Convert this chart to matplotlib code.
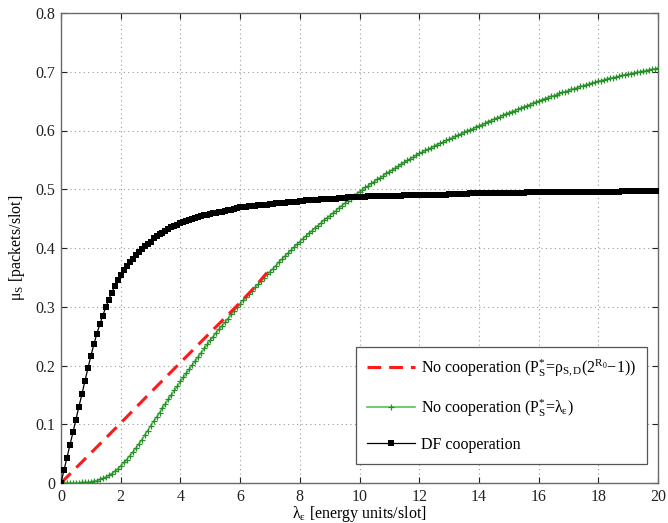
import numpy as np
import matplotlib
matplotlib.use("Agg")
import matplotlib.pyplot as plt

plt.rcParams['font.family'] = ['Liberation Serif', 'DejaVu Serif']
plt.rcParams['mathtext.fontset'] = 'custom'
plt.rcParams['mathtext.rm'] = 'Liberation Serif'
plt.rcParams['mathtext.it'] = 'Liberation Serif:italic'
plt.rcParams['mathtext.bf'] = 'Liberation Serif:bold'

# ---------------- data ----------------
x_step = 0.1
lam = np.round(np.arange(0, 201) * x_step, 1)   # lambda_epsilon grid 0..20

df_coop = [
    0.000,
    0.022, 0.043, 0.065, 0.086, 0.108, 0.130, 0.151, 0.173, 0.195, 0.216,
    0.236, 0.254, 0.270, 0.285, 0.299, 0.312, 0.324, 0.335, 0.345, 0.354,
    0.362, 0.369, 0.376, 0.382, 0.388, 0.393, 0.398, 0.403, 0.407, 0.411,
    0.417, 0.420, 0.423, 0.426, 0.429, 0.432, 0.435, 0.437, 0.440, 0.442,
    0.444, 0.446, 0.448, 0.450, 0.451, 0.453, 0.454, 0.456, 0.457, 0.458,
    0.459, 0.460, 0.461, 0.462, 0.463, 0.464, 0.465, 0.467, 0.468, 0.469,
    0.470, 0.470, 0.471, 0.472, 0.472, 0.473, 0.473, 0.474, 0.474, 0.475,
    0.475, 0.476, 0.476, 0.477, 0.477, 0.478, 0.478, 0.479, 0.479, 0.480,
    0.480, 0.481, 0.481, 0.481, 0.482, 0.482, 0.483, 0.483, 0.483, 0.484,
    0.484, 0.484, 0.485, 0.485, 0.485, 0.486, 0.486, 0.486, 0.487, 0.487,
    0.487, 0.487, 0.488, 0.488, 0.488, 0.488, 0.488, 0.489, 0.489, 0.489,
    0.489, 0.489, 0.489, 0.489, 0.490, 0.490, 0.490, 0.490, 0.490, 0.490,
    0.490, 0.490, 0.491, 0.491, 0.491, 0.491, 0.491, 0.491, 0.491, 0.492,
    0.492, 0.492, 0.492, 0.492, 0.492, 0.492, 0.493, 0.493, 0.493, 0.493,
    0.493, 0.493, 0.493, 0.493, 0.493, 0.494, 0.494, 0.494, 0.494, 0.494,
    0.494, 0.494, 0.494, 0.494, 0.494, 0.495, 0.495, 0.495, 0.495, 0.495,
    0.495, 0.495, 0.495, 0.495, 0.495, 0.495, 0.495, 0.496, 0.496, 0.496,
    0.496, 0.496, 0.496, 0.496, 0.496, 0.496, 0.496, 0.496, 0.496, 0.496,
    0.496, 0.496, 0.496, 0.496, 0.496, 0.496, 0.496, 0.497, 0.497, 0.497,
    0.497, 0.497, 0.497, 0.497, 0.497, 0.497, 0.497, 0.497, 0.497, 0.497,
]

no_coop_lambda = [
    0.000,
    0.000, 0.000, 0.000, 0.000, 0.000, 0.000, 0.001, 0.001, 0.001, 0.002,
    0.003, 0.004, 0.006, 0.008, 0.010, 0.013, 0.016, 0.020, 0.024, 0.029,
    0.035, 0.040, 0.046, 0.052, 0.059, 0.066, 0.073, 0.081, 0.089, 0.097,
    0.105, 0.112, 0.120, 0.128, 0.135, 0.143, 0.150, 0.158, 0.165, 0.173,
    0.180, 0.187, 0.194, 0.201, 0.208, 0.215, 0.222, 0.229, 0.236, 0.243,
    0.249, 0.256, 0.262, 0.268, 0.274, 0.280, 0.287, 0.293, 0.299, 0.305,
    0.311, 0.316, 0.322, 0.327, 0.333, 0.338, 0.344, 0.349, 0.355, 0.360,
    0.365, 0.370, 0.376, 0.381, 0.386, 0.391, 0.396, 0.401, 0.406, 0.411,
    0.416, 0.420, 0.425, 0.429, 0.434, 0.438, 0.442, 0.447, 0.451, 0.455,
    0.459, 0.463, 0.468, 0.472, 0.476, 0.480, 0.484, 0.488, 0.492, 0.496,
    0.499, 0.503, 0.506, 0.510, 0.513, 0.517, 0.520, 0.523, 0.527, 0.530,
    0.533, 0.536, 0.539, 0.543, 0.546, 0.549, 0.552, 0.555, 0.558, 0.561,
    0.563, 0.566, 0.568, 0.571, 0.573, 0.576, 0.578, 0.580, 0.583, 0.585,
    0.587, 0.590, 0.592, 0.594, 0.597, 0.599, 0.601, 0.603, 0.606, 0.608,
    0.610, 0.612, 0.615, 0.617, 0.619, 0.621, 0.623, 0.626, 0.628, 0.630,
    0.632, 0.634, 0.636, 0.638, 0.640, 0.642, 0.644, 0.646, 0.648, 0.650,
    0.652, 0.654, 0.656, 0.658, 0.659, 0.661, 0.663, 0.665, 0.666, 0.668,
    0.670, 0.671, 0.673, 0.675, 0.676, 0.678, 0.679, 0.681, 0.682, 0.684,
    0.685, 0.686, 0.688, 0.689, 0.690, 0.691, 0.692, 0.694, 0.695, 0.696,
    0.697, 0.698, 0.699, 0.700, 0.701, 0.702, 0.703, 0.704, 0.705, 0.706,
]

red_x = [0, 1, 2, 3, 4, 5, 6, 6.5, 6.9]
red_y = [0.000, 0.051, 0.102, 0.154, 0.205, 0.256, 0.307, 0.334, 0.358]

x_ticks = [0, 2, 4, 6, 8, 10, 12, 14, 16, 18, 20]
y_ticks = [0, 0.1, 0.2, 0.3, 0.4, 0.5, 0.6, 0.7, 0.8]
y_ticklabels = ['0', '0.1', '0.2', '0.3', '0.4', '0.5', '0.6', '0.7', '0.8']

label_red = r'No cooperation (P$_\mathrm{S}^{*}$=ρ$_\mathrm{S,D}$(2$^{\mathrm{R}_0}$$-$1))'
label_green = r'No cooperation (P$_\mathrm{S}^{*}$=λ$_\mathrm{ε}$)'
label_black = 'DF cooperation'

# ---------------- figure ----------------
fig = plt.figure(figsize=(6.68, 5.23), dpi=100)
ax = fig.add_axes([61/668, 40/523, 597/668, 470/523])

ax.plot(red_x, red_y, color='#ff1a1a', linestyle=(0, (4.5, 2.6)), linewidth=2.2,
        label=label_red, zorder=4)
ax.plot(lam, no_coop_lambda, color='#55c455', linewidth=1.2, marker='+',
        markersize=4.6, markeredgewidth=0.9, markeredgecolor='#2a8f2a',
        label=label_green, zorder=3)
ax.plot(lam, df_coop, color='black', linewidth=0.9, marker='s',
        markersize=4.3, markeredgewidth=0.0, markerfacecolor='black',
        label=label_black, zorder=5)

ax.set_xlim(0, 20)
ax.set_ylim(0, 0.8)
ax.set_xticks(x_ticks)
ax.set_xticklabels([str(t) for t in x_ticks])
ax.set_yticks(y_ticks)
ax.set_yticklabels(y_ticklabels)

ax.grid(True, linestyle=(0, (1, 3)), color='#9a9a9a', linewidth=0.8)
ax.tick_params(direction='in', top=True, right=True, length=4.5, width=0.8,
               labelsize=11.5, colors='#222222', pad=4)
for s in ax.spines.values():
    s.set_color('#6a6a6a')
    s.set_linewidth(1.0)

ax.set_xlabel(r'λ$_\mathrm{ε}$ [energy units/slot]', fontsize=11.5, labelpad=-0.6)
ax.set_ylabel(r'μ$_\mathrm{S}$ [packets/slot]', fontsize=11.5, labelpad=6)

leg = ax.legend(loc='lower right', bbox_to_anchor=(0.982, 0.040), borderaxespad=0,
                fontsize=11.5, frameon=True, fancybox=False, framealpha=1,
                edgecolor='#555555', handlelength=3.0, labelspacing=1.15,
                borderpad=0.7, handletextpad=0.4)
leg.get_frame().set_linewidth(0.9)

fig.savefig('out.png', dpi=100)
